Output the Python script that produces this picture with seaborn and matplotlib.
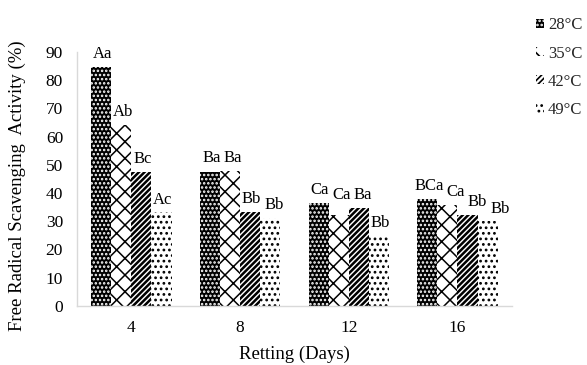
import matplotlib
matplotlib.use("Agg")
import matplotlib.pyplot as plt
import seaborn as sns
import pandas as pd
from matplotlib.patches import Patch

days = ["4", "8", "12", "16"]
temps = ["28°C", "35°C", "42°C", "49°C"]
t28 = [84.8, 47.6, 36.6, 37.8]
t35 = [64.1, 47.7, 32.2, 35.8]
t42 = [47.6, 33.3, 34.8, 32.2]
t49 = [33.1, 31.2, 24.8, 29.9]
lab28 = ["Aa", "Ba", "Ca", "BCa"]
lab35 = ["Ab", "Ba", "Ca", "Ca"]
lab42 = ["Bc", "Bb", "Ba", "Bb"]
lab49 = ["Ac", "Bb", "Bb", "Bb"]

series = [t28, t35, t42, t49]
labels = [lab28, lab35, lab42, lab49]

rows = []
for temp, vals in zip(temps, series):
    for d, v in zip(days, vals):
        rows.append({"Day": d, "Temp": temp, "Value": v})
df = pd.DataFrame(rows)

sns.set_theme(style="white")
plt.rcParams["font.family"] = ["Liberation Serif", "DejaVu Serif"]
plt.rcParams["hatch.linewidth"] = 1.2

fig = plt.figure(figsize=(5.87, 3.65), dpi=100)
ax = fig.add_axes([0.131, 0.162, 0.741, 0.696])

sns.barplot(data=df, x="Day", y="Value", hue="Temp", order=days, hue_order=temps,
            palette=["black", "white", "white", "white"], width=0.74, gap=0,
            legend=False, ax=ax, linewidth=0, errorbar=None)

faces = ["black", "white", "white", "white"]
edges = ["white", "black", "black", "black"]
hatches = ["....", "xx", "//////", "..."]
hlw = [1.2, 1.1, 1.8, 1.2]
for i, cont in enumerate(ax.containers):
    for bar in cont:
        bar.set_facecolor(faces[i])
        bar.set_edgecolor(edges[i])
        bar.set_hatch(hatches[i])
        bar.set_linewidth(0)
        if hasattr(bar, "set_hatch_linewidth"):
            bar.set_hatch_linewidth(hlw[i])

# annotations
anns = [[None] * 4 for _ in range(4)]
for i, cont in enumerate(ax.containers):
    for j, bar in enumerate(cont):
        h = series[i][j]
        if i < 3 and series[i + 1][j] > h:
            h = series[i + 1][j]
        anns[i][j] = ax.annotate(labels[i][j], (bar.get_x() + bar.get_width() / 2, h),
                                 xytext=(1, 3.5), textcoords="offset points",
                                 ha="center", va="bottom", fontsize=12, color="black")

ax.set_ylim(0, 90)
ax.set_xlim(-0.5, 3.5)
ax.set_yticks(range(0, 91, 10))
ax.tick_params(axis="both", length=0, labelsize=12.5, colors="black")
ax.tick_params(axis="y", pad=10)
ax.tick_params(axis="x", pad=10)
for s in ["top", "right"]:
    ax.spines[s].set_visible(False)
for s in ["left", "bottom"]:
    ax.spines[s].set_color("#d9d9d9")
    ax.spines[s].set_linewidth(1)

ax.set_xlabel("Retting (Days)", fontsize=13.5, color="black")
ax.xaxis.label.set_va("center")
ax.xaxis.set_label_coords(0.5, -0.19)
ax.set_ylabel("Free Radical Scavenging  Activity (%)", fontsize=13.5, color="black")
ax.yaxis.label.set_va("center")
ax.yaxis.set_label_coords(-0.136, 0.472)

handles = [Patch(facecolor=faces[i], edgecolor=edges[i], hatch=hatches[i], linewidth=0)
           for i in range(4)]
fig.legend(handles, temps, loc="upper left", bbox_to_anchor=(0.888, 0.994),
           frameon=False, fontsize=12, handlelength=0.45, handleheight=0.45,
           handletextpad=0.25, labelspacing=0.74)

# nudge overlapping data labels to the right (like the spreadsheet's label layout)
fig.canvas.draw()
renderer = fig.canvas.get_renderer()
for j in range(4):
    for i in range(1, 4):
        prev = anns[i - 1][j].get_window_extent(renderer)
        cur = anns[i][j].get_window_extent(renderer)
        vert_overlap = not (cur.y1 < prev.y0 or cur.y0 > prev.y1)
        if vert_overlap and cur.x0 < prev.x1 + 3:
            shift_px = prev.x1 + 3 - cur.x0
            ox, oy = anns[i][j].xyann
            anns[i][j].xyann = (ox + shift_px * 72 / fig.dpi, oy)

fig.savefig("out.png", dpi=100)
